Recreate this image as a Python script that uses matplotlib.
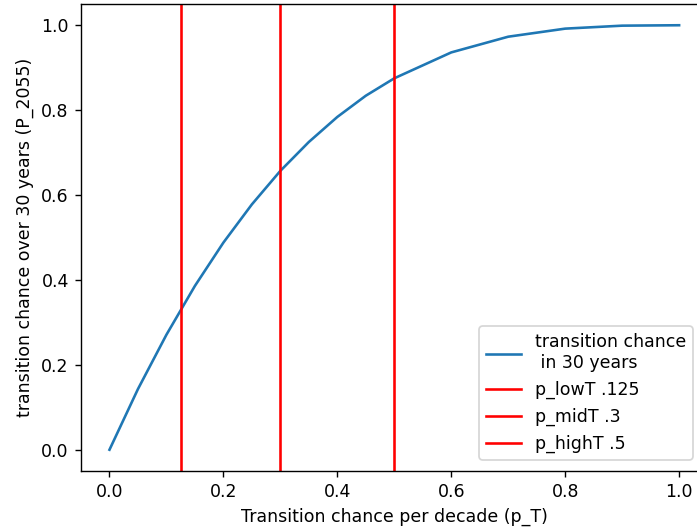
import matplotlib
matplotlib.use('Agg')
import matplotlib.pyplot as plt

# chance per decade vs chance over 30 years
p_T = [0.0, 0.05, 0.1, 0.15, 0.2, 0.25, 0.3, 0.35, 0.4, 0.45, 0.5,
       0.6, 0.7, 0.8, 0.9, 1.0]
p_2055 = [0.0, 0.143, 0.271, 0.386, 0.488, 0.578, 0.657, 0.725, 0.784,
          0.834, 0.875, 0.936, 0.973, 0.992, 0.999, 1.0]

thresholds = [0.125, 0.3, 0.5]
threshold_labels = ['p_lowT .125', 'p_midT .3', 'p_highT .5']

DPI = 125  # text and lines in the original look ~1.25x default size
fig = plt.figure(figsize=(697 / DPI, 528 / DPI), dpi=DPI)
ax = fig.add_axes([0.1162, 0.108, 0.899, 0.8844])
ax.plot(p_T, p_2055, label='transition chance\n in 30 years')
for t, lab in zip(thresholds, threshold_labels):
    ax.axvline(t, color='r', label=lab)
ax.set_xlabel('Transition chance per decade (p_T)')
ax.set_ylabel('transition chance over 30 years (P_2055)')
ax.legend(loc='lower right', bbox_to_anchor=(0.994, 0.129),
          bbox_transform=fig.transFigure, borderaxespad=0)
fig.savefig('out.png', dpi=DPI)
